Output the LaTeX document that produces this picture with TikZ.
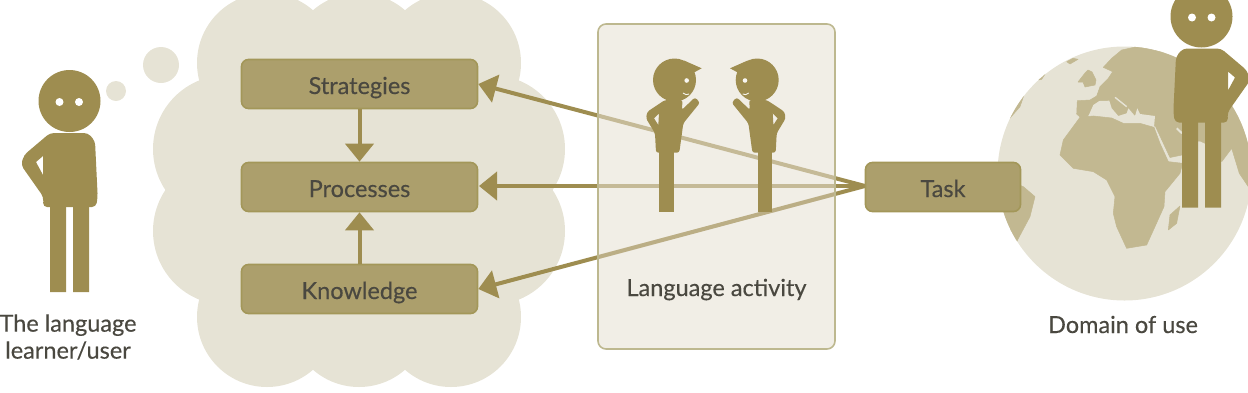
\documentclass[tikz,border=0pt]{standalone}
\usepackage{fontspec}
\setmainfont{Lato}[RawFeature={embolden=0.35}]
\usetikzlibrary{arrows.meta}
\definecolor{figcol}{HTML}{9E8D50}
\definecolor{cloudcol}{HTML}{E6E3D5}
\definecolor{boxfill}{HTML}{AC9F6C}
\definecolor{boxline}{HTML}{A39759}
\definecolor{scenefill}{HTML}{E6E0D2}
\definecolor{sceneline}{HTML}{BDB88F}
\definecolor{landcol}{HTML}{C2B891}
\definecolor{inkcol}{HTML}{4A4840}
\tikzset{
  stagebox/.style={draw=boxline,line width=1.6pt,fill=boxfill,rounded corners=7pt,
    minimum width=236pt,minimum height=49pt,inner sep=0pt,text=inkcol,
    text height=20pt,text depth=0pt,font=\fontsize{23.5}{26}\selectfont},
  caption/.style={text=inkcol,align=center,inner sep=0pt,font=\fontsize{23.5}{27}\selectfont},
  link/.style={draw=figcol,line width=4pt,-{Triangle[length=18pt,width=28pt]}},
  land/.style={fill=landcol,draw=landcol,line width=.5pt,line join=round},
  lobe/.style={fill=cloudcol}
}
% standing figure: torso with hand on hip, two legs, head and eyes
\newcommand{\standingfigure}{%
  \fill[figcol,even odd rule,rounded corners=4pt]
    (50,133) -- (88,133) -- (95,141) -- (97.7,197) -- (96,207) -- (43,207) -- (43.5,197)
    -- (21,165) -- (24,155) -- cycle
    [sharp corners] (43,156) -- (36,162) -- (43,175) -- cycle;
  \fill[figcol] (50,205) rectangle (66,292) (73,205) rectangle (89,292);
  \fill[figcol] (69.5,101) circle[radius=31];
  \fill[white] (59.5,102) circle[radius=4] (79,102) circle[radius=4];
}
% talking figure in profile, one hand raised
\newcommand{\talkingfigure}{%
  \fill[figcol,even odd rule,rounded corners=2.5pt]
    (665,100) -- (682.7,100) -- (681.7,110) -- (695,97.3) -- (700,102.7) -- (683.3,123.3)
    -- (679.3,152.7) -- (656,152.7) -- (655,133.3) -- (646,118.3) -- (647.3,111.7) -- cycle
    [sharp corners] (659,113.3) -- (654,118.3) -- (658.3,125) -- cycle;
  \fill[figcol] (659.3,150) rectangle (674,211.7);
  \fill[figcol] (674.5,80) circle[radius=21.5];
  \fill[figcol] (684,60.5) -- (701.7,68.3) -- (693,73) -- cycle;
  \fill[scenefill!30!white] (686.7,80.5) circle[radius=2.3];
  \draw[scenefill!30!white,line width=.9pt] (683,93) .. controls (685,95) and (687,95) .. (689,94);
}
\begin{document}
\begin{tikzpicture}[x=1pt,y=-1pt]
\clip (0,0) rectangle (1248,392);

% thought cloud
\foreach \cx/\cy/\r in {267/63/70,359/63/70,451/63/70,267/317/70,359/317/70,451/317/70,
    227/149/74,227/231/74,491/149/74,491/231/74}
  \fill[lobe] (\cx,\cy) circle[radius=\r];
\fill[lobe] (230,60) rectangle (490,320);
\fill[lobe] (116,91) circle[radius=10];
\fill[lobe] (161,65) circle[radius=18];

% globe
\fill[cloudcol] (1124.5,173.5) circle[radius=127];
\begin{scope}
  \clip (1124.5,173.5) circle[radius=127];
  % Eurasia
  \path[land] (1076.7,114) -- (1077.3,100.7) -- (1090,100) -- (1096.7,96) -- (1100,86.7)
    -- (1108.3,78.3) -- (1112.7,71.7) -- (1103.3,67.3) -- (1111.7,58.3) -- (1121.7,50)
    -- (1136.7,46.7) -- (1150,49.3) -- (1175,55) -- (1260,90) -- (1260,190) -- (1248.3,186.7)
    -- (1239.3,173.3) -- (1231.7,148.3) -- (1221.7,161.7) -- (1220,150) -- (1200,141)
    -- (1185,141) -- (1182,155) -- (1170,157.5) -- (1155.3,126) -- (1090,126) -- cycle;
  % Mediterranean
  \fill[cloudcol,line join=round] (1089.3,114) -- (1093.3,105) -- (1099.3,101) -- (1109.3,100.7)
    -- (1111.7,108.3) -- (1118.3,116) -- (1126.7,113.3) -- (1128.3,108.3) -- (1135,116)
    -- (1137.3,108.3) -- (1140,114) -- (1155,116) -- (1154,127) -- (1120,130) -- (1085,122) -- cycle;
  \draw[cloudcol,line width=1.4pt] (1115,97.3) -- (1126.7,106.7);
  % Persian Gulf
  \draw[cloudcol,line width=2pt] (1176.7,128.3) -- (1182,133.3);
  % Britain and Ireland
  \path[land] (1078,82) -- (1085,73) -- (1088,70) -- (1092,72) -- (1096,80) -- (1095,85)
    -- (1085,87) -- (1083,82) -- cycle;
  % Iceland
  \path[land] (1066.7,61.7) -- (1073,58.3) -- (1078,59.3) -- (1070,64) -- cycle;
  \begin{scope}[shift={(860,0)},x=.3333pt,y=-.3333pt]
    % Africa
    \path[land] (660,352) -- (700,348) -- (755,354) -- (790,370) -- (840,370) -- (882,382)
      -- (900,430) -- (925,485) -- (968,490) -- (960,520) -- (915,575) -- (912,620) -- (885,680)
      -- (860,735) -- (800,745) -- (770,680) -- (760,640) -- (765,590) -- (740,540)
      -- (700,515) -- (640,505) -- (600,465) -- (610,420) -- cycle;
    % Madagascar
    \path[land] (925,690) -- (930,645) -- (960,618) -- (950,670) -- cycle;
    % South America
    \path[land] (440,540) -- (490,560) -- (525,590) -- (510,650) -- (470,725) -- (435,660) -- (420,620) -- cycle;
    % edge of North America
    \path[land] (445,360) -- (470,310) -- (492,285) -- (480,320) -- cycle;
    \path[land] (535,240) -- (560,215) -- (545,238) -- cycle;
  \end{scope}
\end{scope}

% task links run beneath the translucent activity panel
\node[stagebox] (strategies) at (359.5,84) {Strategies};
\node[stagebox] (processes) at (359.5,187) {Processes};
\node[stagebox] (knowledge) at (359.5,289) {Knowledge};
\coordinate (taskend) at (865,186);
\coordinate (procin) at (479,186);
\draw[link] (taskend) -- (strategies.east);
\draw[link] (taskend) -- (procin);
\draw[link] (taskend) -- (knowledge.east);
\draw[link] (strategies.south) -- (processes.north);
\draw[link] (knowledge.north) -- (processes.south);

% language activity panel
\fill[scenefill,fill opacity=.55,rounded corners=8pt] (598,24) rectangle (835,349);
\begin{scope}
  \clip (598,24) rectangle (835,349);
  \draw[figcol,line width=4pt,draw opacity=.25] (taskend) -- (knowledge.east);
\end{scope}
\draw[sceneline,line width=1.6pt,rounded corners=8pt] (598,24) rectangle (835,349);
\node[caption,anchor=base] (activity) at (716.5,296) {Language activity};
\talkingfigure
\begin{scope}[shift={(1431.7,0)},xscale=-1]
  \talkingfigure
\end{scope}

\node[stagebox,minimum width=155pt] (task) at (943,187) {Task};

% learner and domain figures
\standingfigure
\begin{scope}[shift={(1271,-84.5)},xscale=-1]
  \standingfigure
\end{scope}
\node[caption] (learner) at (68,337) {The language\\learner/user};
\node[caption,anchor=base] (domain) at (1123,333) {Domain of use};
\end{tikzpicture}
\end{document}
